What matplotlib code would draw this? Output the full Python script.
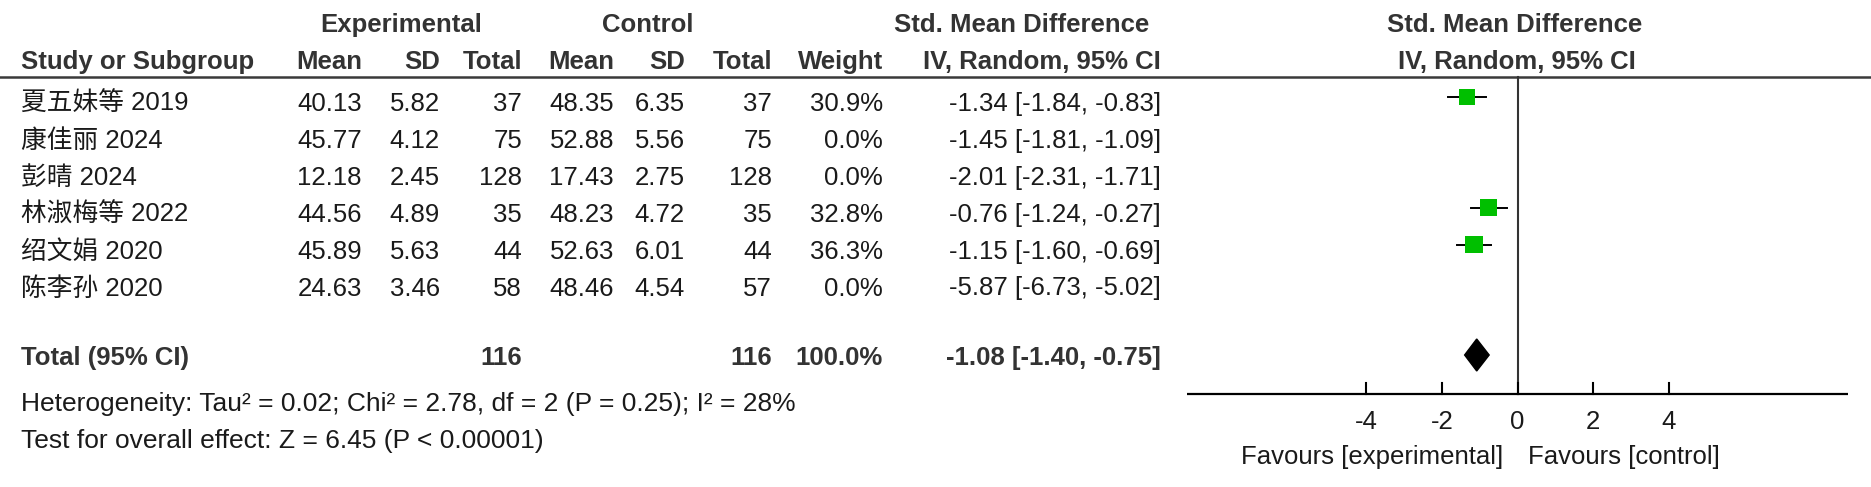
import numpy as np
import matplotlib.pyplot as plt
from matplotlib.patches import Rectangle, Polygon

plt.rcParams['font.family'] = ['Liberation Sans', 'Noto Sans CJK SC', 'DejaVu Sans']

# Дані дослідження
studies = ['夏五妹等 2019', '康佳丽 2024', '彭晴 2024', '林淑梅等 2022', '绍文娟 2020', '陈李孙 2020']
exp_mean = ['40.13', '45.77', '12.18', '44.56', '45.89', '24.63']
exp_sd = ['5.82', '4.12', '2.45', '4.89', '5.63', '3.46']
exp_n = [37, 75, 128, 35, 44, 58]
ctl_mean = ['48.35', '52.88', '17.43', '48.23', '52.63', '48.46']
ctl_sd = ['6.35', '5.56', '2.75', '4.72', '6.01', '4.54']
ctl_n = [37, 75, 128, 35, 44, 57]
weight = [30.9, 0.0, 0.0, 32.8, 36.3, 0.0]
smd = [-1.34, -1.45, -2.01, -0.76, -1.15, -5.87]
ci_lo = [-1.84, -1.81, -2.31, -1.24, -1.60, -6.73]
ci_hi = [-0.83, -1.09, -1.71, -0.27, -0.69, -5.02]

total_exp, total_ctl = 116, 116
pooled, pooled_lo, pooled_hi = -1.08, -1.40, -0.75
heterogeneity = 'Heterogeneity: Tau² = 0.02; Chi² = 2.78, df = 2 (P = 0.25); I² = 28%'
overall = 'Test for overall effect: Z = 6.45 (P < 0.00001)'
ticks = [-4, -2, 0, 2, 4]

W, H = 1871, 487
fig = plt.figure(figsize=(W / 100, H / 100), dpi=100)
ax = fig.add_axes([0, 0, 1, 1])
ax.set_xlim(0, W)
ax.set_ylim(H, 0)
ax.axis('off')

fs = 18.5
txt = '#1a1a1a'
hdr = '#333333'

def put(x, y, s, ha='right', bold=False, color=txt, size=fs):
    ax.text(x, y, s, ha=ha, va='center', fontsize=size,
            fontweight='bold' if bold else 'normal', color=color)

# Заголовки
put(401, 25, 'Experimental', 'center', True, hdr)
put(648, 25, 'Control', 'center', True, hdr)
put(1022, 25, 'Std. Mean Difference', 'center', True, hdr)
put(1515, 25, 'Std. Mean Difference', 'center', True, hdr)
put(21, 62, 'Study or Subgroup', 'left', True, hdr)
cols = [362, 440, 522, 614, 685, 772, 883, 1161]
for x, s in zip(cols, ['Mean', 'SD', 'Total', 'Mean', 'SD', 'Total', 'Weight', 'IV, Random, 95% CI']):
    put(x, 62, s, 'right', True, hdr)
put(1517, 62, 'IV, Random, 95% CI', 'center', True, hdr)
ax.plot([0, W], [77, 77], color='#3a3a3a', lw=1.8)

# Рядки таблиці
row_y = [104 + 36.9 * i for i in range(len(studies))]
for i, y in enumerate(row_y):
    put(21, y, studies[i], 'left')
    vals = [exp_mean[i], exp_sd[i], str(exp_n[i]), ctl_mean[i], ctl_sd[i], str(ctl_n[i]),
            f'{weight[i]:.1f}%', f'{smd[i]:.2f} [{ci_lo[i]:.2f}, {ci_hi[i]:.2f}]']
    for x, s in zip(cols, vals):
        put(x, y, s)

total_y = 358
put(21, total_y, 'Total (95% CI)', 'left', True, hdr)
put(522, total_y, str(total_exp), bold=True, color=hdr)
put(772, total_y, str(total_ctl), bold=True, color=hdr)
put(883, total_y, '100.0%', bold=True, color=hdr)
put(1161, total_y, f'{pooled:.2f} [{pooled_lo:.2f}, {pooled_hi:.2f}]', bold=True, color=hdr)
put(21, 404, heterogeneity, 'left', size=19)
put(21, 441, overall, 'left', size=19)

# Лісовий графік
x0, x1 = 1187, 1848
fx = fig.add_axes([x0 / W, 0, (x1 - x0) / W, 1])
fx.set_xlim(-8.75, 8.75)
fx.set_ylim(H, 0)
fx.axis('off')
ppu = (x1 - x0) / 17.5  # пікселів на одиницю

fx.plot([0, 0], [77, 394], color='#333333', lw=1.5)
fx.plot([-8.75, 8.75], [394, 394], color='black', lw=1.6)
for t in ticks:
    fx.plot([t, t], [383, 394], color='black', lw=1.5)
    fx.text(t, 422, str(t), ha='center', va='center', fontsize=fs, color=txt)

for i, y in enumerate(row_y):
    if weight[i] <= 0:
        continue
    ym = y - 7
    fx.plot([ci_lo[i], ci_hi[i]], [ym, ym], color='black', lw=1.4, zorder=2)
    side = 2.9 * np.sqrt(weight[i])
    fx.add_patch(Rectangle((smd[i] - side / 2 / ppu, ym - side / 2), side / ppu, side,
                           facecolor='#00BF00', edgecolor='none', zorder=3))

dy = 355
fx.add_patch(Polygon([(pooled_lo, dy), (pooled, dy - 16), (pooled_hi, dy), (pooled, dy + 16)],
                     closed=True, facecolor='black', edgecolor='black'))

fx.text(-14 / ppu, 457, 'Favours [experimental]', ha='right', va='center', fontsize=fs, color=txt)
fx.text(11 / ppu, 457, 'Favours [control]', ha='left', va='center', fontsize=fs, color=txt)

fig.savefig('out.png', dpi=100)
